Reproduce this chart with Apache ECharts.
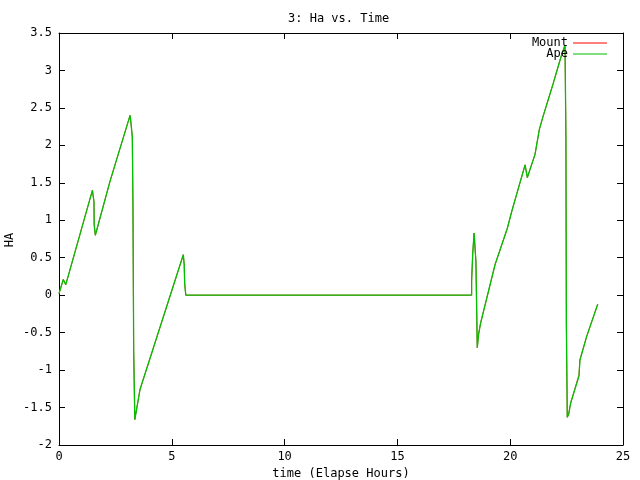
<!DOCTYPE html>
<html>
<head>
<meta charset="utf-8">
<script src="https://cdn.jsdelivr.net/npm/echarts@6/dist/echarts.min.js"></script>
<style>html,body{margin:0;padding:0;background:#fff}#c{width:640px;height:480px}</style>
</head>
<body>
<div id="c"></div>
<script>
var titleText = '3: Ha vs. Time';
var xName = 'time (Elapse Hours)';
var yName = 'HA';
var seriesNames = ['Mount', 'Ape'];

var times = [0, 0.19, 0.30, 1.48, 1.55, 1.56, 1.61, 2.26, 3.15, 3.19, 3.25, 3.28, 3.31, 3.36, 3.59,
  5.51, 5.55, 5.57, 5.62, 18.29, 18.29, 18.34, 18.40, 18.45, 18.48, 18.52, 18.54, 18.60, 18.69,
  19.33, 19.87, 20.07, 20.66, 20.76, 21.10, 21.29, 21.44, 21.91, 22.24, 22.43, 22.47, 22.49, 22.53,
  22.59, 22.68, 23.05, 23.09, 23.39, 23.88];
var apeHa = [0.02, 0.21, 0.14, 1.40, 1.25, 0.94, 0.80, 1.52, 2.40, 2.30, 2.11, 1.10, -0.73, -1.66, -1.26,
  0.54, 0.41, 0.16, 0, 0, 0.19, 0.56, 0.83, 0.85, 0.45, -0.30, -0.70, -0.52, -0.37,
  0.41, 0.89, 1.12, 1.74, 1.57, 1.88, 2.21, 2.37, 2.83, 3.17, 3.34, 2.10, -0.39, -1.63,
  -1.59, -1.44, -1.08, -0.87, -0.55, -0.12];
var mountHa = [0.02, 0.21, 0.14, 1.40, 1.25, 0.94, 0.80, 1.52, 2.40, 2.30, 2.11, 1.10, -0.73, -1.66, -1.26,
  0.54, 0.41, 0.16, 0, 0, 0.19, 0.56, 0.83, 0.85, 0.45, -0.30, -0.70, -0.52, -0.37,
  0.41, 0.89, 1.12, 1.74, 1.57, 1.88, 2.21, 2.37, 2.83, 3.17, 3.34, 2.10, -0.39, -1.63,
  -1.59, -1.44, -1.06, -0.86, -0.55, -0.12];

function pairs(xs, ys) { return xs.map(function (x, i) { return [x, ys[i]]; }); }

var font = 'DejaVu Sans Mono';
var chart = echarts.init(document.getElementById('c'), null, {renderer: 'canvas'});
var axisCommon = {
  axisLine: {show: true, onZero: false, lineStyle: {color: '#000', width: 1}},
  axisTick: {show: true, inside: true, length: 6, lineStyle: {color: '#000', width: 1}},
  splitLine: {show: false},
  axisLabel: {color: '#000', fontFamily: font, fontSize: 12}
};
chart.setOption({
  animation: false,
  backgroundColor: '#fff',
  title: {text: titleText, left: 283, top: 8,
    textStyle: {fontFamily: font, fontSize: 12, fontWeight: 'normal', color: '#000'}},
  graphic: [{
    type: 'text', x: 10, y: 240, rotation: Math.PI / 2,
    style: {text: yName, fill: '#000', font: '12px "DejaVu Sans Mono"', align: 'center', verticalAlign: 'middle'}
  }],
  legend: {
    orient: 'vertical', right: 28, top: 32, align: 'right', itemGap: -1,
    itemWidth: 34, itemHeight: 10, icon: 'path://M0,4.5L34,4.5L34,5.5L0,5.5Z',
    textStyle: {fontFamily: font, fontSize: 12, lineHeight: 10, color: '#000', padding: [0, 0, 0, 0]},
    data: seriesNames
  },
  grid: {left: 59, right: 17, top: 33, bottom: 35, containLabel: false, outerBoundsMode: 'none'},
  xAxis: [
    Object.assign({}, axisCommon, {type: 'value', min: 0, max: 25, interval: 5, position: 'bottom',
      name: xName, nameLocation: 'middle', nameGap: 22,
      nameTextStyle: {fontFamily: font, fontSize: 12, color: '#000'},
      axisLabel: {color: '#000', fontFamily: font, fontSize: 12, margin: 6}}),
    Object.assign({}, axisCommon, {type: 'value', min: 0, max: 25, interval: 5, position: 'top',
      axisLabel: {show: false}})
  ],
  yAxis: [
    Object.assign({}, axisCommon, {type: 'value', min: -2, max: 3.5, interval: 0.5, position: 'left',
      axisLabel: {color: '#000', fontFamily: font, fontSize: 12, margin: 7}}),
    Object.assign({}, axisCommon, {type: 'value', min: -2, max: 3.5, interval: 0.5, position: 'right',
      axisLabel: {show: false}})
  ],
  series: [
    {name: seriesNames[0], type: 'line', data: pairs(times, mountHa), showSymbol: false, symbol: 'none',
      lineStyle: {color: '#ff0000', width: 0.8}, itemStyle: {color: '#ff0000'}},
    {name: seriesNames[1], type: 'line', data: pairs(times, apeHa), showSymbol: false, symbol: 'none',
      lineStyle: {color: '#00c000', width: 1.3}, itemStyle: {color: '#00c000'}}
  ]
});
</script>
</body>
</html>
